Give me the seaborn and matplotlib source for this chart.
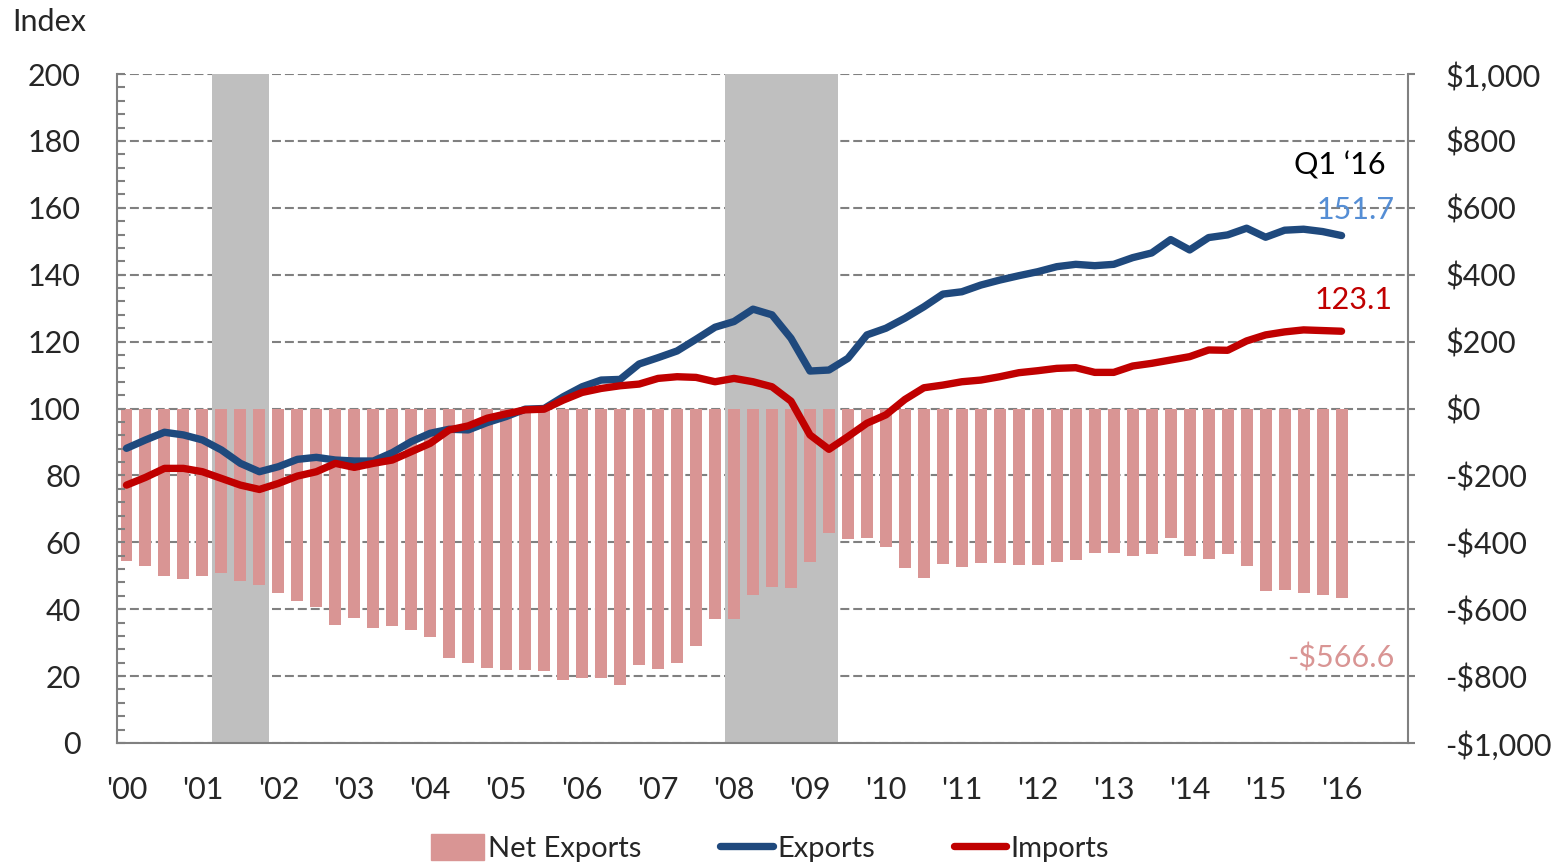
import pandas as pd
import seaborn as sns
import matplotlib.pyplot as plt
from matplotlib.ticker import MultipleLocator, FixedLocator, FuncFormatter
from matplotlib.patches import Patch
from matplotlib.lines import Line2D

# quarterly, Q1 2000 .. Q1 2016
exports = [88.1, 90.6, 92.9, 92.1, 90.6, 87.6, 83.6, 81.1, 82.6, 84.8, 85.4, 84.6, 84.3, 84.3,
           86.8, 90.1, 92.6, 93.8, 93.6, 95.8, 97.6, 99.8, 100.0, 103.5, 106.5, 108.5, 108.7,
           113.3, 115.2, 117.2, 120.7, 124.3, 126.0, 129.7, 128.0, 121.0, 111.2, 111.5, 115.0,
           122.0, 124.0, 127.0, 130.4, 134.2, 134.9, 136.9, 138.4, 139.7, 140.9, 142.4, 143.1,
           142.7, 143.1, 145.1, 146.5, 150.5, 147.4, 151.1, 151.9, 153.9, 151.2, 153.3, 153.6,
           152.9, 151.7]
imports = [77.1, 79.4, 82.1, 82.1, 81.1, 79.1, 77.1, 75.8, 77.6, 79.8, 81.1, 83.6, 82.4, 83.6,
           84.6, 87.1, 89.6, 93.6, 94.8, 97.1, 98.4, 99.6, 99.8, 102.5, 104.8, 106.0, 106.8,
           107.3, 109.0, 109.5, 109.3, 108.0, 109.0, 108.0, 106.5, 102.2, 92.1, 87.8, 91.6,
           95.6, 98.1, 102.7, 106.2, 107.0, 108.0, 108.5, 109.5, 110.7, 111.3, 112.0, 112.2,
           110.8, 110.8, 112.7, 113.5, 114.5, 115.5, 117.5, 117.4, 120.2, 122.0, 122.9, 123.5,
           123.3, 123.1]
net_exports = [-456, -471, -501, -511, -501, -491, -516, -528, -553, -575, -593, -646, -627,
               -657, -650, -662, -684, -745, -760, -777, -782, -782, -785, -812, -807, -807,
               -827, -767, -778, -762, -710, -630, -630, -558, -535, -538, -458, -373, -390,
               -387, -415, -477, -506, -464, -473, -462, -461, -468, -469, -460, -454, -432,
               -432, -440, -434, -387, -440, -449, -434, -470, -547, -542, -553, -559, -566.6]
year_labels = ["'00", "'01", "'02", "'03", "'04", "'05", "'06", "'07", "'08", "'09",
               "'10", "'11", "'12", "'13", "'14", "'15", "'16"]
# recessions, in quarter positions
recessions = [(4.5, 7.5), (31.5, 37.5)]

df = pd.DataFrame({'q': range(len(exports)), 'exports': exports,
                   'imports': imports, 'net': net_exports})

navy = '#1f497d'
red = '#c00000'
pink = '#d99594'
grey = '#808080'

sns.set_style('white')
plt.rcParams['font.family'] = ['Lato', 'DejaVu Sans']

fig = plt.figure(figsize=(15.68, 8.64), dpi=100)
ax = fig.add_axes([117/1568, 1 - 743/864, (1408 - 117)/1568, (743 - 74)/864])
ax2 = ax.twinx()
ax.set_zorder(ax2.get_zorder() + 1)
ax.patch.set_visible(False)

# background axis: net exports bars, recession shading, grid
ax2.set_axisbelow(True)
ax2.yaxis.grid(True, linestyle=(0, (4.3, 1.9)), color=grey, linewidth=1.5)
for a, b in recessions:
    ax2.axvspan(a, b, color='#bfbfbf', lw=0, zorder=0.8)
sns.barplot(data=df, x='q', y='net', native_scale=True, color=pink, saturation=1,
            width=0.63, linewidth=0, ax=ax2, zorder=1)
ax2.set_ylim(-1000, 1000)
ax2.yaxis.set_major_locator(MultipleLocator(200))
ax2.yaxis.set_major_formatter(FuncFormatter(
    lambda v, p: f"-${abs(v):,.0f}" if v < 0 else f"${v:,.0f}"))
ax2.set_ylabel('')
ax2.tick_params(axis='y', which='major', direction='out', length=5, width=1.5,
                color=grey, labelsize=22, pad=22)

# front axis: index lines
sns.lineplot(data=df, x='q', y='exports', ax=ax, color=navy, lw=5.3,
             solid_capstyle='round', solid_joinstyle='round')
sns.lineplot(data=df, x='q', y='imports', ax=ax, color=red, lw=5.3,
             solid_capstyle='round', solid_joinstyle='round')
ax.set_ylim(0, 200)
ax.set_xlim(-0.5, 67.5)
ax.yaxis.set_major_locator(MultipleLocator(20))
ax.yaxis.set_minor_locator(MultipleLocator(4))
ax.tick_params(axis='y', which='both', direction='in', length=6, width=1.5,
               color=grey, labelsize=22, pad=26)
ax.xaxis.set_major_locator(FixedLocator([4 * i for i in range(len(year_labels))]))
ax.set_xticklabels(year_labels)
ax.xaxis.set_minor_locator(FixedLocator([4 * i - 0.5 for i in range(18)]))
ax.tick_params(axis='x', which='major', length=0, labelsize=22, pad=24)
ax.tick_params(axis='x', which='minor', direction='out', length=6, width=1.5, color=grey)
ax.set_xlabel('')
ax.set_ylabel('')
ax2.set_xlim(-0.5, 67.5)

for s in ['top', 'right']:
    ax.spines[s].set_visible(False)
for s in ['left', 'bottom']:
    ax.spines[s].set_color(grey)
    ax.spines[s].set_linewidth(1.5)
for s in ['top', 'left', 'bottom']:
    ax2.spines[s].set_visible(False)
ax2.spines['right'].set_color(grey)
ax2.spines['right'].set_linewidth(1.5)

# annotations
ax.text(66.3, 172.8, 'Q1 \u201816', ha='right', va='center', fontsize=22, color='black')
ax.text(66.8, 159.3, '151.7', ha='right', va='center', fontsize=22, color='#558ed5')
ax.text(66.7, 132.4, '123.1', ha='right', va='center', fontsize=22, color=red)
ax.text(66.8, 25.4, '-$566.6', ha='right', va='center', fontsize=22, color=pink)
fig.text(12/1568, 1 - 22/864, 'Index', ha='left', va='center', fontsize=22)

handles = [Patch(color=pink, label='Net Exports'),
           Line2D([], [], color=navy, lw=5.3, label='Exports'),
           Line2D([], [], color=red, lw=5.3, label='Imports')]
fig.legend(handles=handles, loc='center', bbox_to_anchor=(770/1568, 1 - 848/864), ncol=3,
           frameon=False, fontsize=21, handlelength=1.8, handleheight=1.0,
           handletextpad=0.15, columnspacing=2.7)

fig.savefig('out.png', dpi=100)
